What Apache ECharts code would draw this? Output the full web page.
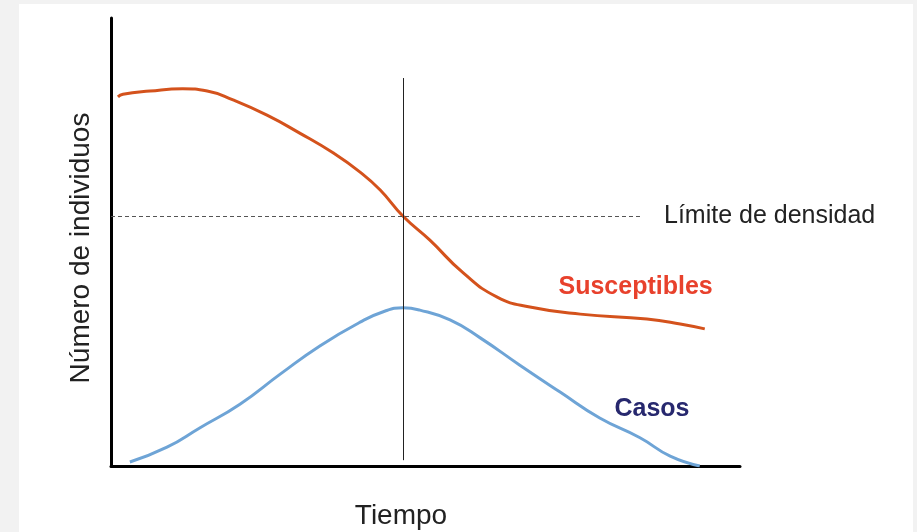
<!DOCTYPE html>
<html>
<head>
<meta charset="utf-8">
<script src="https://cdn.jsdelivr.net/npm/echarts@6/dist/echarts.min.js"></script>
<style>
    html, body { margin: 0; padding: 0; background: #f2f2f2; }
    #panel { position: absolute; left: 19px; top: 4px; width: 894px; height: 528px; background: #fff; }
    #chart { position: absolute; left: 0; top: 0; width: 917px; height: 532px; }
</style>
</head>
<body>
<div id="panel"></div>
<div id="chart"></div>
<script>
// tiempo (0-100) / número de individuos (0-100)
var susceptiblesX = [1.1, 1.9, 6.2, 11.4, 15.3, 19.4, 24.8, 30.0, 35.3, 39.6, 42.8, 46.4, 50.7, 56.0, 61.4, 66.6, 74.6, 85.2, 90.5, 94.4];
var susceptiblesY = [82.4, 83.0, 83.7, 84.2, 83.7, 81.7, 78.3, 74.3, 69.9, 65.6, 61.6, 55.8, 50.4, 43.1, 37.7, 35.5, 33.9, 32.8, 31.7, 30.6];
var casosX = [3.0, 8.9, 14.1, 20.5, 26.9, 33.2, 39.6, 43.6, 46.4, 49.1, 53.9, 58.7, 65.0, 71.4, 77.7, 84.1, 88.9, 93.6];
var casosY = [0.9, 4.2, 8.5, 13.8, 20.5, 26.8, 32.1, 34.6, 35.3, 34.8, 32.6, 28.6, 22.5, 16.5, 10.7, 6.3, 2.2, 0];
var picoX = 46.4, picoYMin = 1.3, picoYMax = 86.6;
var limiteY = 55.8, limiteXMax = 84.1;
var labelSusceptibles = [83.4, 40.0];
var labelCasos = [86.0, 12.7];

function pares(xs, ys) {
    return xs.map(function (x, i) { return [x, ys[i]]; });
}

var myChart = echarts.init(document.getElementById('chart'));
var fuente = 'Liberation Sans, Arial, sans-serif';

var option = {
    backgroundColor: 'transparent',
    animation: false,
    grid: { left: 111, right: 177, top: 18, bottom: 66, outerBoundsMode: 'none' },
    xAxis: {
        type: 'value', min: 0, max: 100,
        name: 'Tiempo', nameLocation: 'middle', nameGap: 36,
        nameTextStyle: { fontFamily: fuente, fontSize: 28, color: '#222', padding: [0, 49, 0, 0] },
        axisLine: { lineStyle: { color: '#000', width: 3 } },
        axisTick: { show: false }, axisLabel: { show: false }, splitLine: { show: false }
    },
    yAxis: {
        type: 'value', min: 0, max: 100,
        name: 'Número de individuos', nameLocation: 'middle', nameGap: 16,
        nameTextStyle: { fontFamily: fuente, fontSize: 28, color: '#222', padding: [0, 12, 0, 0] },
        axisLine: { show: true, lineStyle: { color: '#000', width: 3 } },
        axisTick: { show: false }, axisLabel: { show: false }, splitLine: { show: false }
    },
    series: [
        {
            name: 'Susceptibles', type: 'line', smooth: 0.5, symbol: 'none',
            data: pares(susceptiblesX, susceptiblesY),
            lineStyle: { color: '#d4521c', width: 3 },
            markLine: {
                silent: true, symbol: 'none',
                label: {
                    show: true, position: 'end', distance: 24, formatter: 'Límite de densidad',
                    fontFamily: fuente, fontSize: 25, color: '#222'
                },
                lineStyle: { color: '#555', type: [4, 3], width: 1 },
                data: [[{ coord: [0, limiteY] }, { coord: [limiteXMax, limiteY] }]]
            },
            markPoint: {
                symbol: 'circle', symbolSize: 0,
                label: { show: true, formatter: 'Susceptibles', fontFamily: fuente, fontSize: 25, fontWeight: 'bold', color: '#e8412c' },
                data: [{ coord: labelSusceptibles }]
            }
        },
        {
            name: 'Casos', type: 'line', smooth: 0.5, symbol: 'none',
            data: pares(casosX, casosY),
            lineStyle: { color: '#6ea4d6', width: 3 },
            markLine: {
                silent: true, symbol: 'none', label: { show: false },
                lineStyle: { color: '#222', type: 'solid', width: 1 },
                data: [[{ coord: [picoX, picoYMin] }, { coord: [picoX, picoYMax] }]]
            },
            markPoint: {
                symbol: 'circle', symbolSize: 0,
                label: { show: true, formatter: 'Casos', fontFamily: fuente, fontSize: 25, fontWeight: 'bold', color: '#27286e' },
                data: [{ coord: labelCasos }]
            }
        }
    ]
};

option && myChart.setOption(option);
</script>
</body>
</html>
